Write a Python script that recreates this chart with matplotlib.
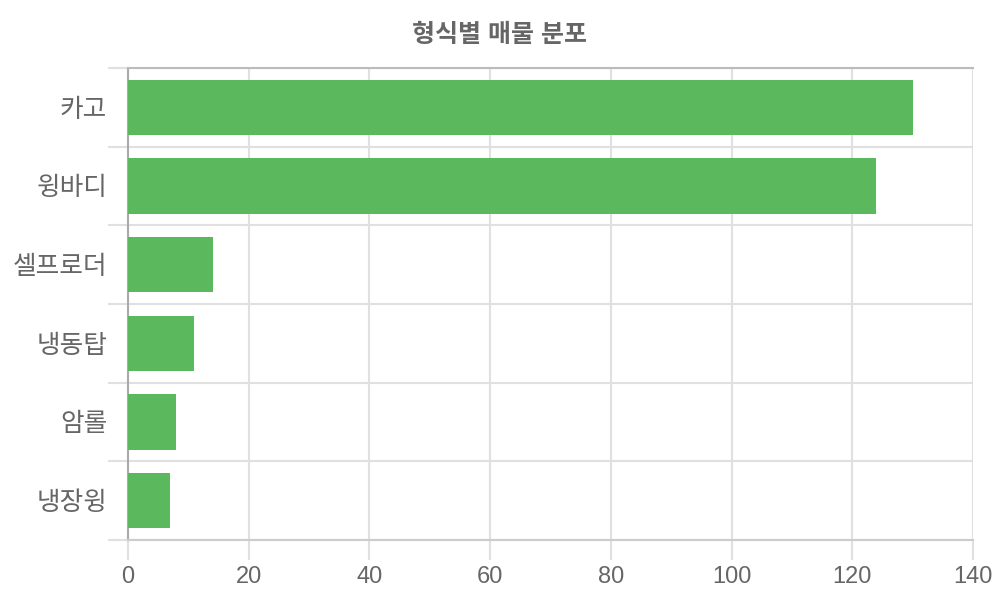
import matplotlib
matplotlib.use("Agg")
import matplotlib.pyplot as plt
import numpy as np

plt.rcParams['font.family'] = ['Liberation Sans', 'Noto Sans CJK KR', 'DejaVu Sans']

# data (top to bottom)
categories = ["카고", "윙바디", "셀프로더", "냉동탑", "암롤", "냉장윙"]
counts = [130, 124, 14, 11, 8, 7]
x_ticks = [0, 20, 40, 60, 80, 100, 120, 140]

green = "#5cb85c"
text_gray = "#666666"
grid_gray = "#e0e0e0"

fig = plt.figure(figsize=(10, 6), dpi=100)
ax = fig.add_axes([0.128, 0.1, 0.845, 0.7867])

n = len(categories)
ypos = np.arange(n)[::-1]
ax.barh(ypos, counts, height=0.7, color=green, zorder=3)

ax.set_xlim(0, 140)
ax.set_ylim(-0.5, n - 0.5)

# category labels at band centers, tick marks at band edges
ax.set_yticks(ypos)
ax.set_yticklabels(categories, fontsize=18.5, color=text_gray)
ax.tick_params(axis='y', which='major', length=0, pad=15)
ax.set_yticks(np.arange(n + 1) - 0.5, minor=True)
ax.tick_params(axis='y', which='minor', length=14.4, width=1.5, color=grid_gray)
ax.grid(axis='y', which='minor', color=grid_gray, linewidth=1.5, zorder=0)

ax.set_xticks(x_ticks)
ax.set_xticklabels([str(t) for t in x_ticks], fontsize=17, color=text_gray)
ax.tick_params(axis='x', length=14.4, width=1.5, color=grid_gray, pad=4)
ax.grid(axis='x', color=grid_gray, linewidth=1.5, zorder=0)

ax.spines['right'].set_visible(False)
ax.spines['left'].set_color("#aaaaaa")
ax.spines['left'].set_linewidth(1.5)
ax.spines['top'].set_color("#bbbbbb")
ax.spines['top'].set_linewidth(1.5)
ax.spines['bottom'].set_color("#cccccc")
ax.spines['bottom'].set_linewidth(1.5)

fig.text(0.5, 0.942, "형식별 매물 분포", ha='center', va='center',
         fontsize=18, fontweight='bold', color=text_gray)

fig.savefig("out.png", dpi=100)
